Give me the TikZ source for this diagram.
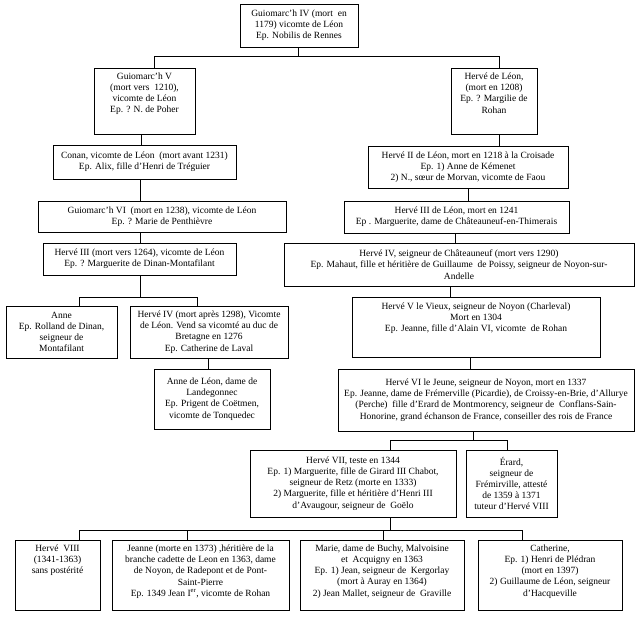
\documentclass[tikz,border=0pt]{standalone}
\usepackage{fontspec}
\setmainfont{Liberation Serif}
\usetikzlibrary{fit}
\begin{document}
\begin{tikzpicture}[x=1pt,y=-1pt,
  box/.style={draw, line width=0.8pt, inner sep=0pt},
  txt/.style={align=center, inner sep=0pt, font=\fontsize{9.5}{11.2}\selectfont},
  conn/.style={line width=0.8pt}]
\useasboundingbox[fill=white] (0,0) rectangle (637,618);
% boxes
\node[box, fit={(240,4) (358,47)}] (a) {};
\node[txt] (at) at (a.center) {Guiomarc'h IV (mort~~en\\1179) vicomte de Léon\\Ep. Nobilis de Rennes};
\node[box, fit={(94,68) (195,134)}] (b) {};
\node[txt, anchor=north] (bt) at ([yshift=-5pt]b.north) {Guiomarc'h V\\(mort vers~~1210),\\vicomte de Léon\\Ep. ? N. de Poher};
\node[box, fit={(451,68) (537,134)}] (c) {};
\node[txt, anchor=north] (ct) at ([yshift=-5pt]c.north) {Hervé de Léon,\\(mort en 1208)\\Ep. ? Margilie de\\Rohan};
\node[box, fit={(53,145) (236,179)}] (conan) {};
\node[txt] (conant) at (conan.center) {Conan, vicomte de Léon~~(mort avant 1231)\\Ep. Alix, fille d’Henri de Tréguier};
\node[box, fit={(368,146) (568,188)}] (h2) {};
\node[txt] (h2t) at (h2.center) {Hervé II de Léon, mort en 1218 à la Croisade\\Ep. 1) Anne de Kémenet\\2) N., sœur de Morvan, vicomte de Faou};
\node[box, fit={(38,201) (286,232)}] (g6) {};
\node[txt] (g6t) at (g6.center) {Guiomarc'h VI~~(mort en 1238), vicomte de Léon\\Ep. ? Marie de Penthièvre};
\node[box, fit={(344,201) (569,233)}] (h3l) {};
\node[txt] (h3lt) at (h3l.center) {Hervé III de Léon, mort en 1241\\Ep . Marguerite, dame de Châteauneuf-en-Thimerais};
\node[box, fit={(43,243) (236,275)}] (h3) {};
\node[txt] (h3t) at (h3.center) {Hervé III (mort vers 1264), vicomte de Léon\\Ep. ? Marguerite de Dinan-Montafilant};
\node[box, fit={(284,243) (634,286)}] (h4c) {};
\node[txt] (h4ct) at (h4c.center) {Hervé IV, seigneur de Châteauneuf (mort vers 1290)\\Ep. Mahaut, fille et héritière de Guillaume~~de Poissy, seigneur de Noyon-sur-\\Andelle};
\node[box, fit={(6,306) (117,358)}] (anne) {};
\node[txt] (annet) at (anne.center) {Anne\\Ep. Rolland de Dinan,\\seigneur de\\Montafilant};
\node[box, fit={(130,306) (288,358)}] (h4) {};
\node[txt] (h4t) at (h4.center) {Hervé IV (mort après 1298), Vicomte\\de Léon. Vend sa vicomté au duc de\\Bretagne en 1276\\Ep. Catherine de Laval};
\node[box, fit={(352,297) (600,357)}] (h5) {};
\node[txt, anchor=north] (h5t) at ([yshift=-6pt]h5.north) {Hervé V le Vieux, seigneur de Noyon (Charleval)\\Mort en 1304\\Ep. Jeanne, fille d’Alain VI, vicomte~~de Rohan};
\node[box, fit={(154,369) (270,429)}] (annel) {};
\node[txt] (annelt) at (annel.center) {Anne de Léon, dame de\\Landegonnec\\Ep. Prigent de Coëtmen,\\vicomte de Tonquedec};
\node[box, fit={(338,369) (634,431)}] (h6) {};
\node[txt] (h6t) at (h6.center) {Hervé VI le Jeune, seigneur de Noyon, mort en 1337\\Ep. Jeanne, dame de Frémerville (Picardie), de Croissy-en-Brie, d’Allurye\\(Perche)~~fille d’Erard de Montmorency, seigneur de~~Conflans-Sain-\\Honorine, grand échanson de France, conseiller des rois de France};
\node[box, fit={(250,450) (456,517)}] (h7) {};
\node[txt] (h7t) at (h7.center) {Hervé VII, teste en 1344\\Ep. 1) Marguerite, fille de Girard III Chabot,\\seigneur de Retz (morte en 1333)\\2) Marguerite, fille et héritière d’Henri III\\d’Avaugour, seigneur de~~Goëlo};
\node[box, fit={(466,450) (557,517)}] (erard) {};
\node[txt] (erardt) at (erard.center) {Érard,\\seigneur de\\Frémirville, attesté\\de 1359 à 1371\\tuteur d’Hervé VIII};
\node[box, fit={(15,540) (100,610)}] (h8) {};
\node[txt, anchor=north] (h8t) at ([yshift=-5pt]h8.north) {Hervé~~VIII\\(1341-1363)\\sans postérité};
\node[box, fit={(112,540) (289,610)}] (jeanne) {};
\node[txt, anchor=north] (jeannet) at ([yshift=-5pt]jeanne.north) {Jeanne (morte en 1373) ,héritière de la\\branche cadette de Leon en 1363, dame\\de Noyon, de Radepont et de Pont-\\Saint-Pierre\\Ep. 1349 Jean I\textsuperscript{er}, vicomte de Rohan};
\node[box, fit={(300,540) (464,610)}] (marie) {};
\node[txt, anchor=north] (mariet) at ([yshift=-5pt]marie.north) {Marie, dame de Buchy, Malvoisine\\et~~Acquigny en 1363\\Ep. 1) Jean, seigneur de~~Kergorlay\\(mort à Auray en 1364)\\2) Jean Mallet, seigneur de~~Graville};
\node[box, fit={(478,540) (622,610)}] (cath) {};
\node[txt, anchor=north] (catht) at ([yshift=-5pt]cath.north) {Catherine,\\Ep. 1) Henri de Plédran\\(mort en 1397)\\2) Guillaume de Léon, seigneur\\d’Hacqueville};
% junction coordinates
\coordinate (t0) at (298,56);
\coordinate (tb) at (154,56);
\coordinate (tc) at (499,56);
\coordinate (k1) at (141,140);
\coordinate (k2) at (140,190);
\coordinate (j3) at (140,297);
\coordinate (j3a) at (79,297);
\coordinate (j3b) at (197,297);
\coordinate (k4) at (208,360);
\coordinate (k5) at (468,190);
\coordinate (k6) at (455,240);
\coordinate (k7) at (450,290);
\coordinate (k8) at (470,360);
\coordinate (j6) at (473,440);
\coordinate (j6a) at (390,440);
\coordinate (j6b) at (507,440);
\coordinate (j7) at (390,530);
\coordinate (j7a) at (79,530);
\coordinate (j7b) at (187,530);
\coordinate (j7c) at (383,530);
\coordinate (j7d) at (522,530);
% connectors
\draw[conn] (a.south -| t0) -- (t0);
\draw[conn] (b.north -| tb) -- (tb) -- (tc) -- (c.north -| tc);
\draw[conn] (b.south -| k1) -- (conan.north -| k1);
\draw[conn] (conan.south -| k2) -- (g6.north -| k2);
\draw[conn] (g6.south -| k2) -- (h3.north -| k2);
\draw[conn] (h3.south -| j3) -- (j3);
\draw[conn] (anne.north -| j3a) -- (j3a) -- (j3b) -- (h4.north -| j3b);
\draw[conn] (h4.south -| k4) -- (annel.north -| k4);
\draw[conn] (c.south -| tc) -- (h2.north -| tc);
\draw[conn] (h2.south -| k5) -- (h3l.north -| k5);
\draw[conn] (h3l.south -| k6) -- (h4c.north -| k6);
\draw[conn] (h4c.south -| k7) -- (h5.north -| k7);
\draw[conn] (h5.south -| k8) -- (h6.north -| k8);
\draw[conn] (h6.south -| j6) -- (j6);
\draw[conn] (h7.north -| j6a) -- (j6a) -- (j6b) -- (erard.north -| j6b);
\draw[conn] (h7.south -| j7) -- (j7);
\draw[conn] (h8.north -| j7a) -- (j7a) -- (j7d) -- (cath.north -| j7d);
\draw[conn] (jeanne.north -| j7b) -- (j7b);
\draw[conn] (marie.north -| j7c) -- (j7c);
\end{tikzpicture}
\end{document}
